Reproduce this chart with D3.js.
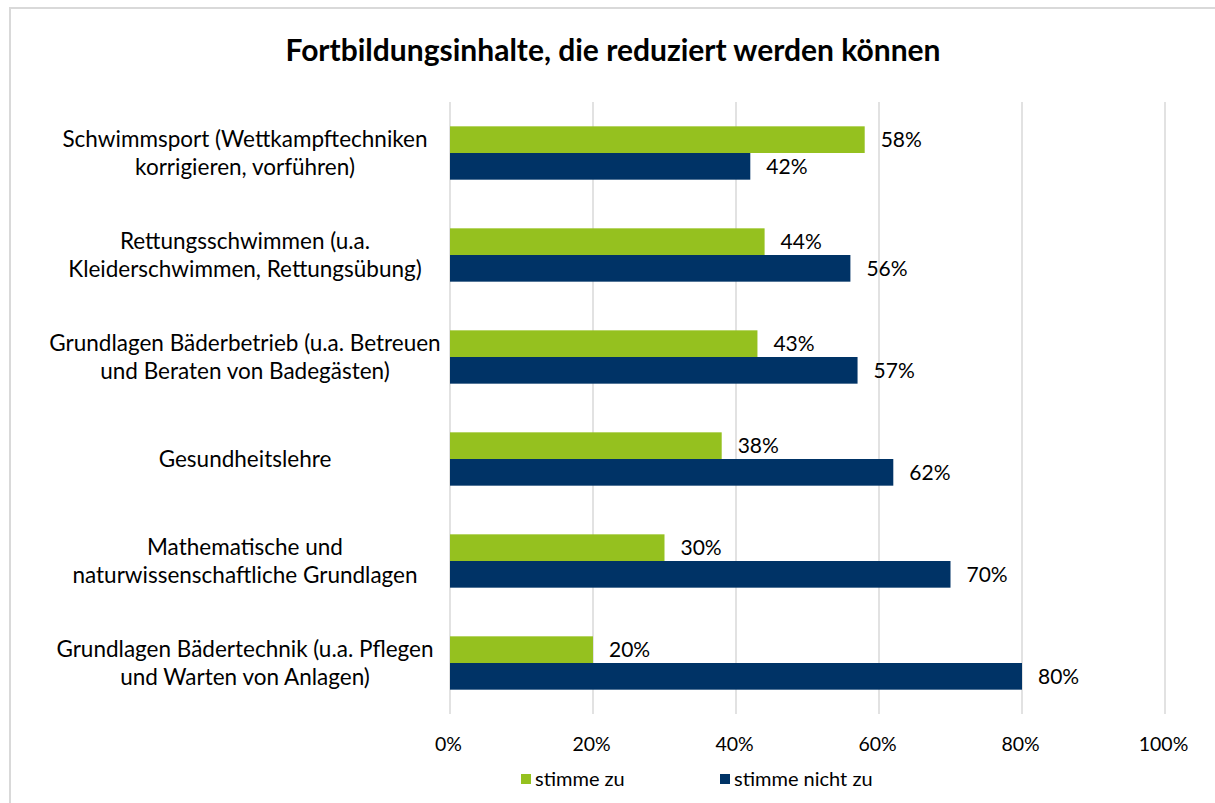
<!DOCTYPE html>
<html>
<head>
<meta charset="utf-8">
<script src="https://cdn.jsdelivr.net/npm/d3@7"></script>
<style>
  html, body { margin: 0; padding: 0; background: #fff; }
  svg { display: block; font-family: "Lato", "Open Sans", sans-serif; }
</style>
</head>
<body>
<svg id="chart" width="1215" height="803"></svg>
<script>
// Survey: which training topics could be reduced
const categories = [
  ["Schwimmsport (Wettkampftechniken", "korrigieren, vorführen)"],
  ["Rettungsschwimmen (u.a.", "Kleiderschwimmen, Rettungsübung)"],
  ["Grundlagen Bäderbetrieb (u.a. Betreuen", "und Beraten von Badegästen)"],
  ["Gesundheitslehre"],
  ["Mathematische und", "naturwissenschaftliche Grundlagen"],
  ["Grundlagen Bädertechnik (u.a. Pflegen", "und Warten von Anlagen)"]
];
const agree = [58, 44, 43, 38, 30, 20];
const disagree = [42, 56, 57, 62, 70, 80];
const seriesNames = ["stimme zu", "stimme nicht zu"];
const seriesColors = ["#95c11f", "#003366"];
const tickValues = [0, 20, 40, 60, 80, 100];
const title = "Fortbildungsinhalte, die reduziert werden können";

const svg = d3.select("#chart");
const W = 1215, H = 803;

// outer frame
svg.append("rect")
  .attr("x", 10).attr("y", 8)
  .attr("width", W + 20).attr("height", H + 20)
  .attr("fill", "none").attr("stroke", "#d9d9d9").attr("stroke-width", 2);

svg.append("text")
  .attr("x", 613).attr("y", 61)
  .attr("text-anchor", "middle")
  .attr("font-size", 30).attr("font-weight", "bold").attr("fill", "#000")
  .text(title);

const x = d3.scaleLinear().domain([0, 100]).range([450, 1165]);
const idx = d3.range(categories.length);
const y = d3.scaleBand().domain(idx).range([102, 714])
  .paddingInner(0.477).paddingOuter(0.2385);
const sub = d3.scaleBand().domain([0, 1]).range([0, y.bandwidth()]);

// gridlines
svg.append("g").selectAll("line").data(tickValues).join("line")
  .attr("x1", d => x(d)).attr("x2", d => x(d))
  .attr("y1", 102).attr("y2", 714)
  .attr("stroke", "#d9d9d9").attr("stroke-width", 1.5);

// x-axis tick labels
const axis = d3.axisBottom(x).tickValues(tickValues).tickFormat(d => d + "%").tickSize(0).tickPadding(0);
const gAxis = svg.append("g").attr("transform", "translate(-2,737)").call(axis);
gAxis.select(".domain").remove();
gAxis.selectAll("text").attr("font-size", 19.5).attr("fill", "#000")
  .attr("font-family", "Lato, 'Open Sans', sans-serif");

const series = [agree, disagree];
const gBars = svg.append("g");
series.forEach((vals, s) => {
  gBars.append("g").selectAll("rect").data(idx).join("rect")
    .attr("x", x(0))
    .attr("y", i => y(i) + sub(s))
    .attr("width", i => x(vals[i]) - x(0))
    .attr("height", sub.bandwidth())
    .attr("fill", seriesColors[s]);
  gBars.append("g").selectAll("text").data(idx).join("text")
    .attr("x", i => x(vals[i]) + 16)
    .attr("y", i => y(i) + sub(s) + sub.bandwidth() / 2)
    .attr("dy", "0.35em")
    .attr("font-size", 21).attr("fill", "#000")
    .text(i => vals[i] + "%");
});

// category labels
const gCat = svg.append("g");
idx.forEach(i => {
  const lines = categories[i];
  const cy = y(i) + y.bandwidth() / 2;
  const lh = 28;
  const t = gCat.append("text")
    .attr("text-anchor", "middle")
    .attr("font-size", 22.5).attr("fill", "#000");
  lines.forEach((ln, k) => {
    t.append("tspan")
      .attr("x", 245)
      .attr("y", cy + (k - (lines.length - 1) / 2) * lh)
      .attr("dy", "0.35em")
      .text(ln);
  });
});

// legend
const legendX = [521, 720];
const gLeg = svg.append("g");
seriesNames.forEach((name, s) => {
  gLeg.append("rect")
    .attr("x", legendX[s]).attr("y", 774)
    .attr("width", 10).attr("height", 10)
    .attr("fill", seriesColors[s]);
  gLeg.append("text")
    .attr("x", legendX[s] + 14).attr("y", 779)
    .attr("dy", "0.35em")
    .attr("font-size", 20).attr("fill", "#000")
    .text(name);
});
</script>
</body>
</html>
